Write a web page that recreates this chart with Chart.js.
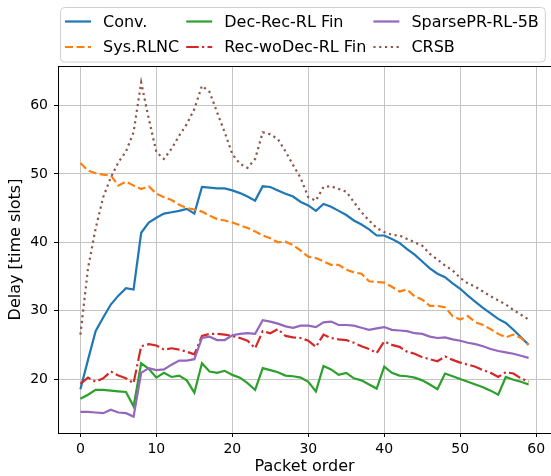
<!DOCTYPE html>
<html>
<head>
<meta charset="utf-8">
<script src="https://cdn.jsdelivr.net/npm/chart.js@4/dist/chart.umd.min.js"></script>
<style>
  html, body { margin: 0; padding: 0; background: #fff; }
  #wrap { width: 551px; height: 476px; position: relative; }
</style>
</head>
<body>
<div id="wrap"><canvas id="delayChart"></canvas></div>
<script>
const packets = [0,1,2,3,4,5,6,7,8,9,10,11,12,13,14,15,16,17,18,19,20,21,22,23,24,25,26,27,28,29,
  30,31,32,33,34,35,36,37,38,39,40,41,42,43,44,45,46,47,48,49,50,51,52,53,54,55,56,57,58,59];
const xTicks = [0, 10, 20, 30, 40, 50, 60];
const yTicks = [20, 30, 40, 50, 60];

const conv = [18.5,22.8,27.0,29.0,30.9,32.2,33.3,33.1,41.4,42.9,43.6,44.2,44.4,44.6,44.9,44.2,48.1,48.0,47.9,47.9,
  47.6,47.2,46.7,46.1,48.2,48.1,47.6,47.1,46.7,45.9,45.4,44.6,45.6,45.2,44.6,44.0,43.2,42.6,41.9,41.0,
  41.0,40.5,39.9,39.0,38.2,37.2,36.2,35.4,34.9,34.0,33.2,32.2,31.3,30.4,29.6,28.8,28.2,27.2,26.1,25.0];
const sysRlnc = [51.6,50.5,50.1,49.9,49.8,48.3,48.9,48.3,47.8,48.2,47.1,46.6,46.2,45.5,45.0,44.8,44.5,43.9,43.4,43.2,
  42.9,42.5,42.1,41.6,41.0,40.6,40.0,40.1,39.6,38.8,37.9,37.7,37.2,36.7,36.7,36.0,35.6,35.4,34.3,34.2,
  34.1,33.5,32.8,33.1,32.1,31.6,30.7,30.7,30.5,29.2,28.7,29.2,28.3,27.9,27.3,26.6,26.1,26.5,26.0,25.0];
const decRec = [17.1,17.7,18.4,18.4,18.3,18.2,18.1,16.0,22.3,21.5,20.2,20.9,20.3,20.5,19.8,18.0,22.3,21.1,20.9,21.2,
  20.6,20.2,19.4,18.4,21.6,21.3,21.0,20.5,20.4,20.2,19.6,18.2,21.9,21.4,20.6,20.9,20.1,19.8,19.2,18.6,
  21.8,20.9,20.5,20.4,20.2,19.8,19.2,18.5,20.8,20.4,20.0,19.6,19.2,18.8,18.3,17.7,20.3,19.9,19.6,19.2];
const recWoDec = [19.3,20.2,19.6,20.1,21.1,20.5,20.1,19.4,24.8,25.1,24.9,24.3,24.5,24.3,24.0,23.6,26.3,26.6,26.6,26.5,
  26.3,26.0,25.6,24.5,27.0,26.7,27.3,26.3,26.1,26.0,25.6,24.7,26.5,26.0,25.8,25.7,25.3,24.8,24.4,23.8,
  25.5,25.0,24.7,24.0,23.7,23.2,22.9,22.6,23.3,22.8,22.4,22.1,21.8,21.3,20.9,20.3,21.0,20.8,20.1,19.6];
const sparsePr = [15.2,15.2,15.1,15.0,15.5,15.1,15.0,14.5,20.9,21.6,21.3,21.4,22.1,22.7,22.7,22.9,26.0,26.2,25.7,25.7,
  26.4,26.6,26.7,26.6,28.6,28.4,28.1,27.7,27.5,27.8,27.8,27.6,28.3,28.4,27.9,27.9,27.8,27.5,27.2,27.4,
  27.6,27.2,27.1,27.0,26.7,26.6,26.2,26.0,26.1,25.8,25.6,25.3,25.1,24.8,24.4,24.1,23.9,23.7,23.4,23.1];
const crsb = [26.5,36.2,42.0,46.6,49.5,51.7,53.3,56.1,63.4,58.1,53.2,52.2,53.7,55.6,57.3,59.5,62.9,62.0,59.0,56.1,
  52.9,51.5,50.9,52.2,56.1,55.8,55.1,53.3,51.3,49.4,46.6,46.1,48.1,48.2,47.8,47.4,45.9,44.4,43.2,42.1,
  41.5,41.1,41.0,40.5,40.0,39.5,38.3,37.5,36.6,35.9,34.8,34.0,33.5,32.8,32.1,31.5,30.9,30.1,29.4,28.7];

const FONT = '"DejaVu Sans", sans-serif';
Chart.defaults.font.family = FONT;
Chart.defaults.color = '#000';

function line(label, data, color, dash, order) {
  return {
    label: label, data: data, borderColor: color, backgroundColor: color,
    borderWidth: 2.2, borderDash: dash, pointRadius: 0, tension: 0, fill: false, order: order
  };
}

// box around the plot area, like matplotlib spines
const framePlugin = {
  id: 'frame',
  afterDraw(chart) {
    const a = chart.chartArea, ctx = chart.ctx;
    ctx.save();
    ctx.strokeStyle = '#000';
    ctx.lineWidth = 1;
    ctx.strokeRect(a.left + 0.5, a.top + 0.5, a.right - a.left, a.bottom - a.top);
    ctx.restore();
  }
};

// 3-column legend, filled column by column
const legendPlugin = {
  id: 'mplLegend',
  afterDraw(chart) {
    const ctx = chart.ctx;
    const ds = chart.data.datasets;
    const rows = 2, cols = 3;
    const handleLen = 26, handlePad = 12, colGap = 7;
    const boxLeft = 60, boxTop = 7.5, rowH = 25.5;
    ctx.save();
    ctx.font = '16px ' + FONT;
    const colX = [];
    let x = boxLeft + 5;
    for (let c = 0; c < cols; c++) {
      colX.push(x);
      let w = 0;
      for (let r = 0; r < rows; r++) {
        const d = ds[c * rows + r];
        if (d) w = Math.max(w, ctx.measureText(d.label).width);
      }
      x += handleLen + handlePad + w + colGap;
    }
    const boxRight = Math.min(x - colGap + 6, chart.width - 1.5);
    const boxBottom = boxTop + 54.5;
    ctx.beginPath();
    ctx.roundRect(boxLeft + 0.5, boxTop, boxRight - boxLeft, boxBottom - boxTop, 4);
    ctx.fillStyle = 'rgba(255,255,255,0.8)';
    ctx.fill();
    ctx.strokeStyle = '#d0d0d0';
    ctx.lineWidth = 1;
    ctx.stroke();

    ctx.textBaseline = 'middle';
    ctx.textAlign = 'left';
    for (let c = 0; c < cols; c++) {
      for (let r = 0; r < rows; r++) {
        const d = ds[c * rows + r];
        if (!d) continue;
        const cy = boxTop + 14 + r * rowH;
        ctx.beginPath();
        ctx.setLineDash(d.borderDash || []);
        ctx.strokeStyle = d.borderColor;
        ctx.lineWidth = d.borderWidth;
        ctx.moveTo(colX[c], cy);
        ctx.lineTo(colX[c] + handleLen, cy);
        ctx.stroke();
        ctx.setLineDash([]);
        ctx.fillStyle = '#000';
        ctx.fillText(d.label, colX[c] + handleLen + handlePad, cy + 1);
      }
    }
    ctx.restore();
  }
};

const ctx = document.getElementById('delayChart').getContext('2d');
new Chart(ctx, {
  type: 'line',
  data: {
    labels: packets,
    datasets: [
      line('Conv.', conv, '#1f77b4', [], 6),
      line('Sys.RLNC', sysRlnc, '#ff7f0e', [8, 3.5], 5),
      line('Dec-Rec-RL Fin', decRec, '#2ca02c', [], 4),
      line('Rec-woDec-RL Fin', recWoDec, '#d62728', [12.5, 3.3, 2.2, 3.3], 3),
      line('SparsePR-RL-5B', sparsePr, '#9467bd', [], 2),
      line('CRSB', crsb, '#8c564b', [2.2, 3.6], 1)
    ]
  },
  options: {
    responsive: true,
    maintainAspectRatio: false,
    animation: false,
    layout: { padding: { top: 66, left: 0, right: 0, bottom: 0 } },
    plugins: { legend: { display: false }, tooltip: { enabled: false } },
    scales: {
      x: {
        type: 'linear',
        min: -2.95, max: 61.95,
        afterBuildTicks: (axis) => { axis.ticks = xTicks.map(v => ({ value: v })); },
        afterFit: (scale) => { scale.height = 43; scale.paddingRight = 0; scale.paddingLeft = 0; },
        grid: { color: '#c4c4c4', lineWidth: 1, tickColor: '#000', tickLength: 4 },
        border: { color: '#000', width: 1 },
        ticks: { font: { size: 14 }, padding: 4, maxRotation: 0, autoSkip: false },
        title: { display: true, text: 'Packet order', font: { size: 16 }, padding: { top: 0, bottom: 0 } }
      },
      y: {
        min: 12.1, max: 65.8,
        afterBuildTicks: (axis) => { axis.ticks = yTicks.map(v => ({ value: v })); },
        afterFit: (scale) => { scale.width = 58; scale.paddingTop = 0; scale.paddingBottom = 0; },
        grid: { color: '#c4c4c4', lineWidth: 1, tickColor: '#000', tickLength: 4 },
        border: { color: '#000', width: 1 },
        ticks: { font: { size: 14 }, padding: 6, autoSkip: false },
        title: { display: true, text: 'Delay [time slots]', font: { size: 16 }, padding: { top: 6, bottom: 0 } }
      }
    }
  },
  plugins: [framePlugin, legendPlugin]
});
</script>
</body>
</html>
